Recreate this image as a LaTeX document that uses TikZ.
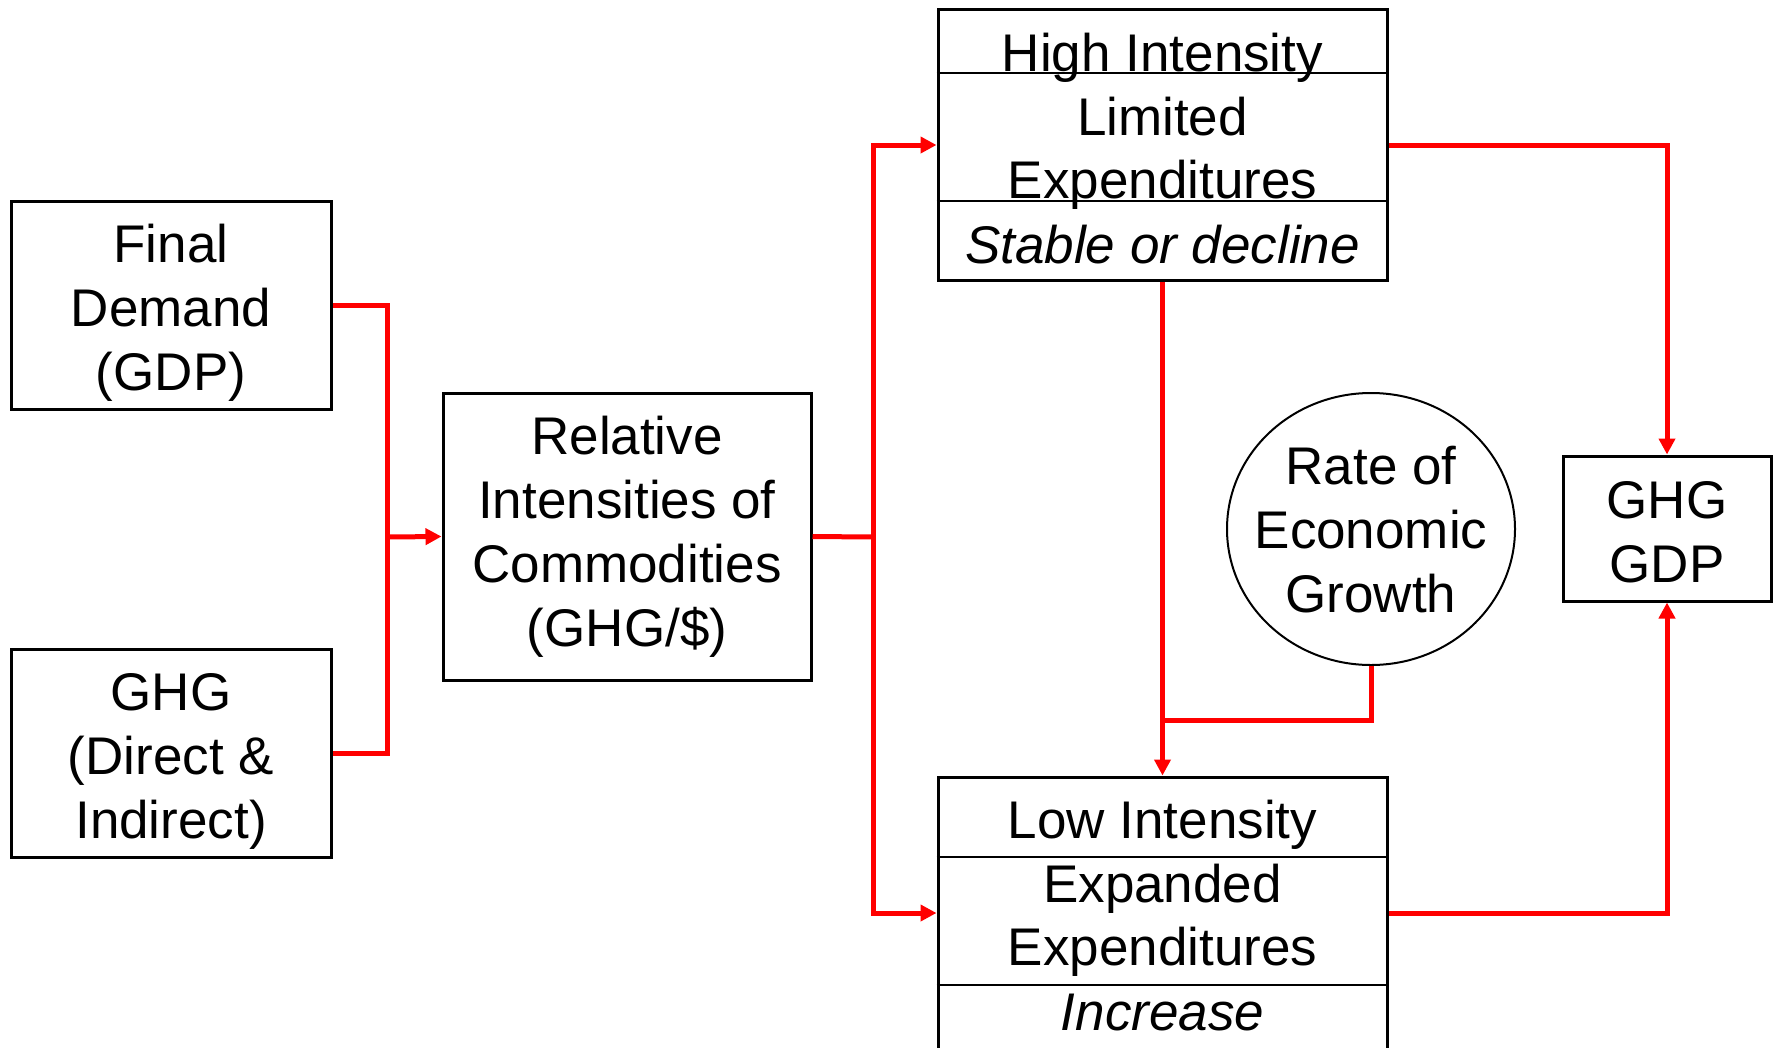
\documentclass[tikz,border=0pt]{standalone}
\usepackage{fontspec}
\setmainfont{Liberation Sans}
\usetikzlibrary{arrows.meta,shapes.geometric}
\begin{document}
\begin{tikzpicture}[x=1pt,y=-1pt,
  font=\fontsize{53}{64}\selectfont,
  box/.style={draw=black,line width=3pt,rectangle,inner sep=0pt,align=center},
  oval/.style={draw=black,line width=2pt,ellipse,inner sep=0pt},
  link/.style={draw=red,line width=5pt},
  arr/.style={link,-{Triangle[length=16pt,width=16pt]}},
  div/.style={draw=black,line width=2.5pt},
  lbl/.style={inner sep=0pt,align=center},
  txt/.style={anchor=base,inner sep=0pt}]
\useasboundingbox (0,0) rectangle (1775,1047);
% left boxes
\node[box,minimum width=320,minimum height=208] (fd) at (171,305) {};
\node[lbl] (fdt) at (171,313) {Final\\Demand\\(GDP)};
\node[box,minimum width=320,minimum height=208] (gh) at (171,753) {};
\node[lbl] (ght) at (171,761) {GHG\\(Direct \&\\Indirect)};
% middle box
\node[box,minimum width=368,minimum height=287] (mid) at (627,536.5) {Relative\\Intensities of\\Commodities\\(GHG/\$)};
% top box
\node[box,minimum width=449,minimum height=271] (hi) at (1162.5,145) {};
\draw[div] (hi.west |- 0,73) -- (hi.east |- 0,73);
\draw[div] (hi.west |- 0,201) -- (hi.east |- 0,201);
\node[txt] (hi1) at (1162.5,71) {High Intensity};
\node[txt] (hi2) at (1162.5,135) {Limited};
\node[txt] (hi3) at (1162.5,198) {Expenditures};
\node[txt] (hi4) at (1162.5,263) {\itshape Stable or decline};
% bottom box
\node[box,minimum width=449,minimum height=272] (lo) at (1162.5,913) {};
\draw[div] (lo.west |- 0,857) -- (lo.east |- 0,857);
\draw[div] (lo.west |- 0,985) -- (lo.east |- 0,985);
\node[txt] (lo1) at (1162.5,838) {Low Intensity};
\node[txt] (lo2) at (1162.5,902) {Expanded};
\node[txt] (lo3) at (1162.5,965) {Expenditures};
\node[txt] (lo4) at (1162.5,1030) {\itshape Increase};
% ellipse
\node[oval,minimum width=288,minimum height=272] (eg) at (1371,529) {};
\node[lbl] (egt) at (1371,530) {Rate of\\Economic\\Growth};
% right box
\node[box,minimum width=208,minimum height=145] (gdp) at (1667,528.5) {};
\node[lbl] (gdpt) at (1667,532) {GHG\\GDP};
% connectors
\coordinate (m1) at (387,537);
\coordinate (m2) at (873,537);
\coordinate (j) at (1162.5,720);
\draw[link] (fd.east) -| (m1) |- (gh.east);
\draw[arr] (m1) -- (mid.west);
\draw[link] (mid.east) -- (m2);
\draw[arr] (m2) |- (hi.west);
\draw[arr] (m2) |- (lo.west);
\draw[arr] (hi.south) -- (lo.north);
\draw[link] (eg.south) |- (j);
\draw[arr] (hi.east) -| (gdp.north);
\draw[arr] (lo.east) -| (gdp.south);
\end{tikzpicture}
\end{document}
